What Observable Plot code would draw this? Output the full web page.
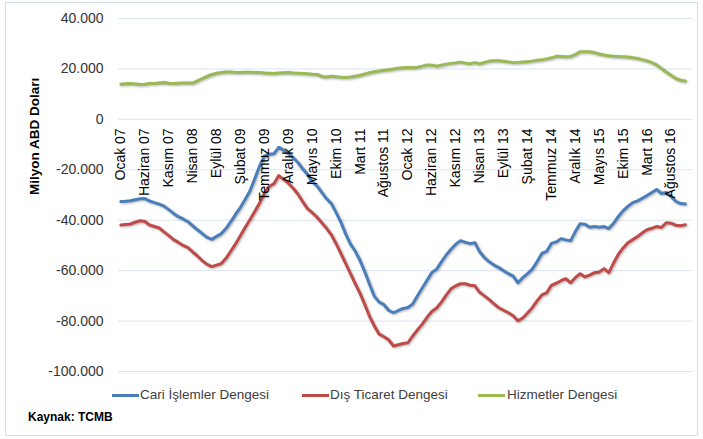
<!DOCTYPE html>
<html>
<head>
<meta charset="utf-8">
<script src="https://cdn.jsdelivr.net/npm/d3@7"></script>
<script src="https://cdn.jsdelivr.net/npm/@observablehq/plot@0.6"></script>
<style>
  html, body { margin: 0; padding: 0; background: #fff; }
  #wrap { position: relative; width: 703px; height: 439px; overflow: hidden; font-family: "Liberation Sans", Arial, sans-serif; color: #404040; }
  #frame { position: absolute; left: 5px; top: 2px; width: 693px; height: 434px; border: 1px solid #d3deec; box-sizing: border-box; }
  #chart { position: absolute; left: 0; top: 0; }
  #chart g[aria-label="line"] path { filter: drop-shadow(1px 1.5px 1px rgba(0,0,0,0.3)); }
  .leg { position: absolute; top: 386px; font-size: 13.5px; color: #404040; white-space: nowrap; line-height: 18px; }
  .sw { position: absolute; top: 394px; height: 3px; width: 27px; }
  #src { position: absolute; left: 28px; top: 410px; font-size: 12px; font-weight: bold; color: #000; }
</style>
</head>
<body>
<div id="wrap">
  <div id="frame"></div>
  <div id="chart"></div>
  <div class="sw" style="left:112px;background:#4a7ebb"></div>
  <div class="leg" style="left:140px">Cari İşlemler Dengesi</div>
  <div class="sw" style="left:302px;background:#be4b48"></div>
  <div class="leg" style="left:330px">Dış Ticaret Dengesi</div>
  <div class="sw" style="left:478px;background:#98b954"></div>
  <div class="leg" style="left:507px">Hizmetler Dengesi</div>
  <div id="src">Kaynak: TCMB</div>
</div>
<script>
// Monthly data, Ocak 2007 onwards (milyon ABD doları, 12 aylık toplam)
const cariIslemler = [-32600,-32500,-32300,-31900,-31500,-31400,-32400,-33000,-33600,-34400,
-35800,-37300,-38600,-39500,-40600,-42200,-43800,-45300,-46800,-47600,
-46400,-45300,-43200,-40500,-37600,-34900,-31700,-28300,-23500,-18500,
-14600,-13800,-13600,-11100,-12200,-13500,-15200,-17100,-19600,-21800,
-24800,-26400,-29000,-31500,-33400,-37000,-40800,-45500,-49500,-52300,
-56000,-60500,-65500,-70200,-72500,-73500,-75800,-76700,-75800,-75000,
-74600,-73200,-70000,-66900,-63800,-60800,-59400,-56500,-53800,-51500,
-49500,-48100,-48800,-49300,-48900,-52500,-54800,-56500,-57800,-58800,
-60000,-61200,-62200,-64800,-62800,-61200,-59400,-56500,-53200,-52400,
-49200,-48600,-47300,-47800,-48200,-44500,-41400,-41600,-42800,-42500,
-42800,-42500,-43300,-41200,-38500,-36200,-34500,-33000,-32300,-31300,
-30200,-29000,-27800,-29400,-29000,-30600,-32500,-33400,-33600];

const disTicaret = [-41900,-41700,-41500,-40800,-40200,-40500,-41900,-42500,-43100,-44600,
-46100,-47700,-48800,-50000,-50900,-52600,-54200,-56000,-57500,-58400,
-57800,-57200,-55000,-52200,-49300,-46100,-42800,-39700,-36500,-33200,
-29300,-26600,-25500,-22300,-23800,-25300,-27300,-29600,-32600,-35400,
-37000,-38800,-41000,-43200,-45800,-49300,-53200,-57200,-61200,-65200,
-69000,-73500,-78200,-82000,-85200,-86200,-87500,-89900,-89400,-88900,
-88600,-85900,-83500,-81200,-78500,-76200,-74800,-72500,-69700,-67200,
-66000,-65200,-65200,-65800,-66000,-68600,-70000,-71500,-73200,-74700,
-75700,-76700,-77900,-79900,-78800,-76800,-74700,-72000,-69600,-68800,
-65800,-65000,-64000,-63200,-64800,-62800,-61200,-62500,-61800,-60800,
-60500,-59200,-60800,-57000,-53500,-51000,-48900,-47700,-46500,-45000,
-43800,-43200,-42500,-42900,-41000,-41200,-42000,-42200,-41800];

const hizmetler = [13900,14100,14200,14000,13800,13900,14200,14200,14400,14600,
14300,14200,14300,14400,14400,14400,15300,16200,17000,17800,
18300,18600,18800,18800,18600,18600,18700,18700,18600,18600,
18400,18300,18200,18400,18500,18600,18400,18300,18200,18100,
17900,17800,17000,16800,17100,16900,16700,16600,16800,17100,
17500,18000,18500,18900,19200,19500,19700,20000,20300,20500,
20600,20500,20700,21100,21600,21500,21100,21500,21900,22200,
22400,22700,22300,22100,22500,22000,22600,23100,23200,23200,
23000,22800,22500,22600,22700,22800,23100,23400,23600,24000,
24400,25000,24900,24800,24900,25800,26800,26800,26800,26400,
25900,25500,25200,25000,24900,24800,24700,24400,24100,23700,
23200,22500,21600,20200,18800,17500,16200,15500,15200];

const seriesNames = ["Cari İşlemler Dengesi", "Dış Ticaret Dengesi", "Hizmetler Dengesi"];
const seriesColors = ["#4a7ebb", "#be4b48", "#98b954"];

const tickLabels = ["Ocak 07","Haziran 07","Kasım 07","Nisan 08","Eylül 08","Şubat 09","Temmuz 09",
"Aralık 09","Mayıs 10","Ekim 10","Mart 11","Ağustos 11","Ocak 12","Haziran 12","Kasım 12",
"Nisan 13","Eylül 13","Şubat 14","Temmuz 14","Aralık 14","Mayıs 15","Ekim 15","Mart 16","Ağustos 16"];
const tickStep = 5; // one label every 5 months
const yTicks = [40000, 20000, 0, -20000, -40000, -60000, -80000, -100000];
const nCategories = 120;

const allSeries = [cariIslemler, disTicaret, hizmetler];
const rows = allSeries.flatMap((arr, s) => arr.map((v, i) => ({i, v, s: seriesNames[s]})));
const ticks = tickLabels.map((label, k) => ({i: k * tickStep, label}));

const fmt = d => (d < 0 ? "-" : "") + d3.format(",")(Math.abs(d)).replace(/,/g, ".");

const chart = Plot.plot({
  width: 703,
  height: 385,
  marginLeft: 118,
  marginRight: 11,
  marginTop: 18,
  marginBottom: 14,
  style: {fontFamily: "'Liberation Sans', Arial, sans-serif", fontSize: "14px", color: "#333", background: "transparent"},
  x: {domain: [-0.5, nCategories - 0.5], axis: null},
  y: {domain: [-100000, 40000], ticks: yTicks, tickFormat: fmt, tickSize: 0, tickPadding: 15, label: null},
  color: {domain: seriesNames, range: seriesColors},
  marks: [
    Plot.ruleY(yTicks, {stroke: "#dbe4f0", strokeWidth: 1}),
    Plot.line(rows, {x: "i", y: "v", z: "s", stroke: "s", strokeWidth: 3, strokeLinejoin: "round", strokeLinecap: "round"}),
    Plot.text(ticks, {x: "i", y: () => 0, text: "label", rotate: -90, textAnchor: "end", dy: 9, fill: "#000", fontSize: 14}),
    Plot.text(["Milyon ABD Doları"], {frameAnchor: "left", dx: -84, rotate: -90, fontWeight: "bold", fontSize: 13.5, fill: "#000"})
  ]
});
document.getElementById("chart").appendChild(chart);
</script>
</body>
</html>
